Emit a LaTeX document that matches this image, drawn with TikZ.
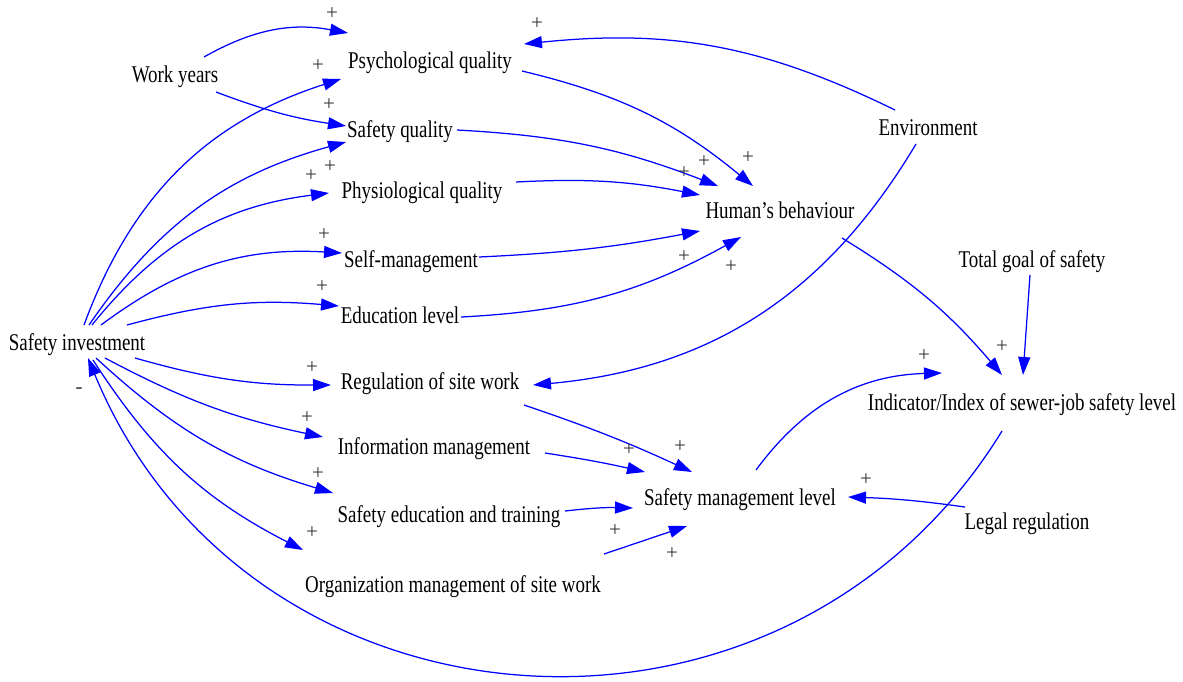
\documentclass[tikz,border=0pt]{standalone}
\usepackage{fontspec}
\setmainfont{Liberation Serif}[FakeStretch=0.79]
\newfontfamily\signfont{Liberation Serif}
\usetikzlibrary{arrows.meta}
\definecolor{linkblue}{RGB}{0,0,255}
\definecolor{signgray}{RGB}{55,55,55}
\begin{document}
\begin{tikzpicture}[x=1pt,y=-1pt,
  lbl/.style={inner sep=0pt,text height=19pt,text depth=5pt,
              font=\fontsize{24}{28}\selectfont},
  link/.style={draw=linkblue,line width=1.25pt,
               -{Triangle[length=18pt,width=12pt]}},
  sign/.style={inner sep=0pt,text=signgray,font=\signfont\fontsize{21}{24}\selectfont}]
\fill[white] (0,0) rectangle (1183,681);
\path[use as bounding box] (0,0) rectangle (1183,681);

% variables
\node[lbl] (wy)  at (175,75)  {Work years};
\node[lbl] (pq)  at (430,61)  {Psychological quality};
\node[lbl] (sq)  at (400,130) {Safety quality};
\node[lbl] (phq) at (422,191) {Physiological quality};
\node[lbl] (sm)  at (411,260) {Self-management};
\node[lbl] (el)  at (400,316) {Education level};
\node[lbl] (si)  at (77,343)  {Safety investment};
\node[lbl] (rs)  at (430,382) {Regulation of site work};
\node[lbl] (im)  at (434,447) {Information management};
\node[lbl] (tr)  at (449,515) {Safety education and training};
\node[lbl] (om)  at (453,585) {Organization management of site work};
\node[lbl] (env) at (928,128) {Environment};
\node[lbl] (hb)  at (780,211) {Human’s behaviour};
\node[lbl] (tg)  at (1032,260) {Total goal of safety};
\node[lbl] (ind) at (1022,403) {Indicator/Index of sewer-job safety level};
\node[lbl] (sml) at (740,498) {Safety management level};
\node[lbl] (lr)  at (1027,522) {Legal regulation};

% causal links
\draw[link] ([shift={(29,-18)}]wy.center) to[bend left=20] ([shift={(-82,-28)}]pq.center);
\draw[link] ([shift={(7,-18)}]si.center) to[bend left=26] ([shift={(-89,18)}]pq.center);
\draw[link] ([shift={(41,17)}]wy.center) to[bend right=6] ([shift={(-54,-4)}]sq.center);
\draw[link] ([shift={(12,-18)}]si.center) to[bend left=20] ([shift={(-54,12)}]sq.center);
\draw[link] ([shift={(15,-18)}]si.center) to[bend left=22] ([shift={(-93,2)}]phq.center);
\draw[link] ([shift={(24,-18)}]si.center) to[bend left=20] ([shift={(-69,-7)}]sm.center);
\draw[link] ([shift={(50,-18)}]si.center) to[bend left=10] ([shift={(-61,-10)}]el.center);
\draw[link] ([shift={(92,10)}]pq.center) to[bend left=13] ([shift={(-27,-25)}]hb.center);
\draw[link] ([shift={(57,0)}]sq.center) to[bend left=9] ([shift={(-62,-25)}]hb.center);
\draw[link] ([shift={(94,-9)}]phq.center) to[bend left=7] ([shift={(-80,-16)}]hb.center);
\draw[link] ([shift={(68,-3)}]sm.center) to[bend right=4] ([shift={(-80,20)}]hb.center);
\draw[link] ([shift={(61,1)}]el.center) to[bend right=13] ([shift={(-39,26)}]hb.center);
\draw[link] ([shift={(-33,-18)}]env.center) to[bend right=16] ([shift={(94,-17)}]pq.center);
\draw[link] ([shift={(-12,16)}]env.center) to[bend left=27] ([shift={(103,3)}]rs.center);
\draw[link] ([shift={(62,27)}]hb.center) to[bend left=9] ([shift={(-20,-28)}]ind.center);
\draw[link] ([shift={(-2,15)}]tg.center) -- ([shift={(1,-28)}]ind.center);
\draw[link] ([shift={(94,23)}]rs.center) to[bend left=3] ([shift={(-48,-26)}]sml.center);
\draw[link] ([shift={(111,6)}]im.center) to[bend left=2] ([shift={(-95,-26)}]sml.center);
\draw[link] ([shift={(116,-4)}]tr.center) to[bend left=4] ([shift={(-107,10)}]sml.center);
\draw[link] ([shift={(151,-31)}]om.center) -- ([shift={(-53,28)}]sml.center);
\draw[link] ([shift={(16,-28)}]sml.center) to[bend left=26] ([shift={(-80,-30)}]ind.center);
\draw[link] ([shift={(-62,-15)}]lr.center) to[bend right=3] ([shift={(108,-1)}]sml.center);
\draw[link] ([shift={(-20,28)}]ind.center) to[bend left=63,looseness=1.17] ([shift={(11,15)}]si.center);
\draw[link] ([shift={(58,15)}]si.center) to[bend right=8] ([shift={(-99,3)}]rs.center);
\draw[link] ([shift={(28,15)}]si.center) to[bend right=8] ([shift={(-111,-10)}]im.center);
\draw[link] ([shift={(19,15)}]si.center) to[bend right=13] ([shift={(-116,-22)}]tr.center);
\draw[link] ([shift={(16,17)}]si.center) to[bend right=15] ([shift={(-150,-35)}]om.center);

% link polarities
\foreach \px/\py [count=\k] in {332/14,318/66,329/105,330/167,311/176,324/235,322/287,
    537/24,748/158,704/162,684/173,684/257,731/267,1002/347,924/356,866/480,
    312/368,307/418,318/474,312/533,680/447,629/450,615/531,672/554}
  \node[sign] (p\k) at (\px,\py) {+};
\node[sign] (neg) at (79,391) {-};
\end{tikzpicture}
\end{document}
